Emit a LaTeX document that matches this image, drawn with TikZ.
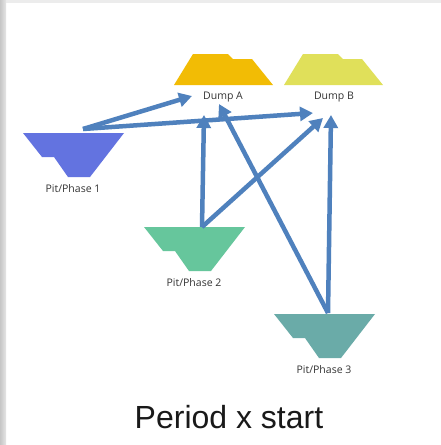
\documentclass[tikz,border=0pt]{standalone}
\usepackage{fontspec}
\setmainfont{Open Sans}
\newfontfamily\titlefont{Liberation Sans}
\usepackage{tikz}
\usetikzlibrary{arrows.meta,positioning,calc}
\definecolor{pitone}{HTML}{6373E0}
\definecolor{pittwo}{HTML}{66C69C}
\definecolor{pitthree}{HTML}{6AABA8}
\definecolor{dumpa}{HTML}{F2BC05}
\definecolor{dumpb}{HTML}{E0E05A}
\definecolor{routeblue}{HTML}{4F81BD}
\definecolor{labelgray}{HTML}{333333}
\tikzstyle{route} = [draw=routeblue, line width=4.5pt, -{Triangle[length=13pt,width=14pt]}]
\tikzstyle{pitlabel} = [text=labelgray, font=\fontsize{10.5}{12}\selectfont, inner sep=0pt]
\tikzset{
  pit/.pic={\fill[#1] (0,0) -- (19,24) -- (31,24) -- (45,44) -- (67,44) -- (101,0) -- cycle;},
  dump/.pic={\fill[#1] (0,0) -- (19,-31) -- (54,-31) -- (59,-26) -- (78,-26) -- (99,0) -- cycle;}
}

\begin{document}
\begin{tikzpicture}[x=1pt,y=-1pt]
	\useasboundingbox (0,0) rectangle (441,445);
	% frame of the slide
	\fill[white] (0,0) rectangle (441,445);
	\fill[gray!15] (0,0) rectangle (441,3);
	\shade[left color=gray!45, right color=gray!20] (0,0) rectangle (6,445);
	% dumps
	\pic at (174,85) {dump=dumpa};
	\pic at (284,85) {dump=dumpb};
	\node[pitlabel] (lA) at (223,97) {Dump A};
	\node[pitlabel] (lB) at (334,97) {Dump B};
	% pits
	\pic at (23,133) {pit=pitone};
	\pic at (144,227) {pit=pittwo};
	\pic at (274,314) {pit=pitthree};
	\node[pitlabel] (l1) at (73,189) {Pit/Phase 1};
	\node[pitlabel] (l2) at (194,283) {Pit/Phase 2};
	\node[pitlabel] (l3) at (324,370) {Pit/Phase 3};
	% start and end points of the hauls
	\coordinate (s1) at (83,129);
	\coordinate (s2) at (202,227);
	\coordinate (s3) at (328,313);
	\coordinate (a1) at (192,96);
	\coordinate (a2) at (204,115);
	\coordinate (a3) at (219,104);
	\coordinate (b1) at (313,113);
	\coordinate (b2) at (323,118);
	\coordinate (b3) at (331,115);
	% hauls
	\draw[route] (s1) -- (a1);
	\draw[route] (s1) -- (b1);
	\draw[route] (s2) -- (a2);
	\draw[route] (s2) -- (b2);
	\draw[route] (s3) -- (a3);
	\draw[route] (s3) -- (b3);
	% title
	\node[text=black!90, font=\titlefont\fontsize{32}{38}\selectfont] (title) at (229,417) {Period x start};
\end{tikzpicture}
\end{document}
